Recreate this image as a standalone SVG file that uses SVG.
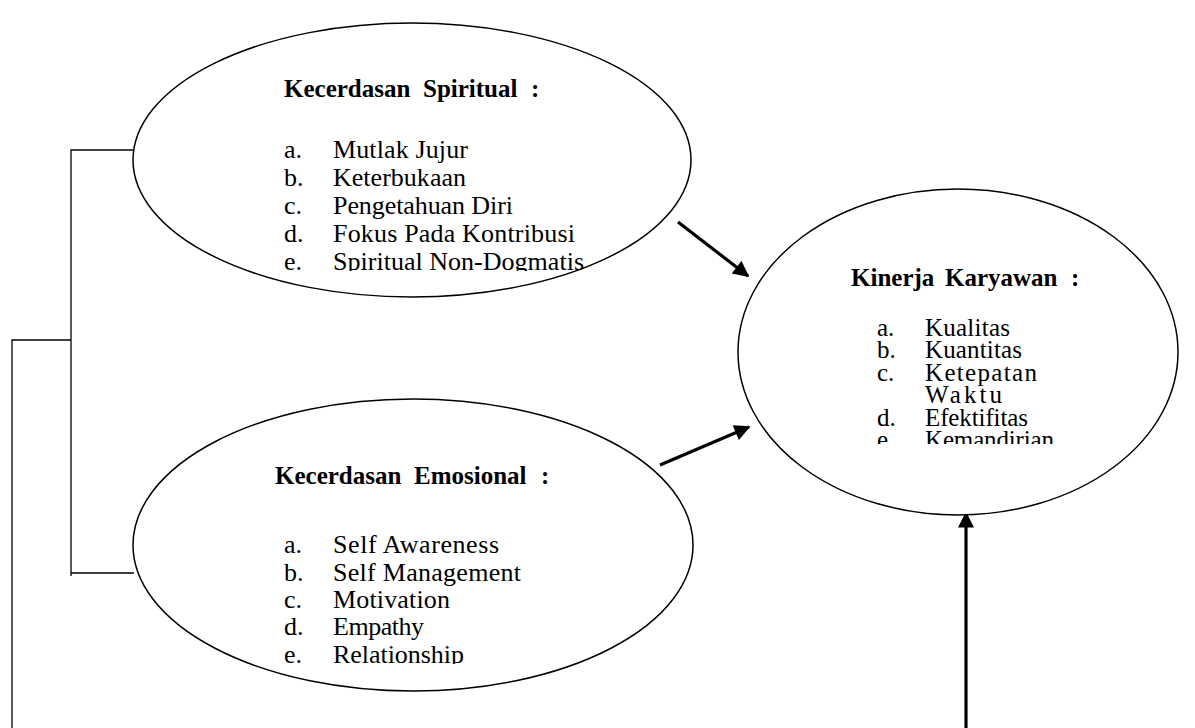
<svg xmlns="http://www.w3.org/2000/svg" width="1195" height="728" viewBox="0 0 1195 728">
<style>
.node ellipse{fill:#fff;stroke:#000;stroke-width:1.5}
.t{font-family:"Liberation Serif","Times New Roman",serif;font-size:26px;fill:#000}
.k{font-size:25px}
.h{font-family:"Liberation Serif","Times New Roman",serif;font-size:25px;font-weight:bold;fill:#000}
.ln{fill:none;stroke:#000;stroke-width:1.3}
.ar{fill:none;stroke:#000;stroke-width:3.2}
</style>
<defs>
<marker id="ah" viewBox="0 0 10 10" refX="9" refY="5" markerWidth="5.5" markerHeight="5" markerUnits="strokeWidth" orient="auto">
<path d="M0,0 L10,5 L0,10 Z" fill="#000"/>
</marker>
<clipPath id="c1"><rect x="200" y="60" width="450" height="211"/></clipPath>
<clipPath id="c2"><rect x="200" y="440" width="450" height="224"/></clipPath>
<clipPath id="c3"><rect x="820" y="250" width="300" height="194"/></clipPath>
</defs>
<rect width="1195" height="728" fill="#fff"/>
<g id="connectors">
<polyline class="ln" points="133,150 71,150 71,576"/>
<line class="ln" x1="71" y1="573" x2="134" y2="573"/>
<polyline class="ln" points="71,340 12,340 12,728"/>
<line class="ar" x1="678" y1="222" x2="748" y2="276" marker-end="url(#ah)"/>
<line class="ar" x1="660" y1="465" x2="749" y2="427" marker-end="url(#ah)"/>
<line class="ar" x1="966" y1="728" x2="966" y2="513" marker-end="url(#ah)"/>
</g>
<g id="node-spiritual" class="node">
<ellipse cx="412" cy="160" rx="279" ry="137"/>
<text class="h" y="97"><tspan x="284">Kecerdasan</tspan><tspan x="423">Spiritual</tspan><tspan x="531">:</tspan></text>
<g clip-path="url(#c1)">
<text class="t" x="284" y="158">a.</text><text class="t" x="333" y="158" textLength="135" lengthAdjust="spacing">Mutlak Jujur</text>
<text class="t" x="284" y="186">b.</text><text class="t" x="333" y="186" textLength="133" lengthAdjust="spacing">Keterbukaan</text>
<text class="t" x="284" y="214">c.</text><text class="t" x="333" y="214" textLength="180" lengthAdjust="spacing">Pengetahuan Diri</text>
<text class="t" x="284" y="242">d.</text><text class="t" x="333" y="242" textLength="242" lengthAdjust="spacing">Fokus Pada Kontribusi</text>
<text class="t" x="284" y="270">e.</text><text class="t" x="333" y="270" textLength="251" lengthAdjust="spacing">Spiritual Non-Dogmatis</text>
</g>
</g>
<g id="node-emosional" class="node">
<ellipse cx="413" cy="545" rx="280" ry="146"/>
<text class="h" y="484"><tspan x="275">Kecerdasan</tspan><tspan x="414">Emosional</tspan><tspan x="541">:</tspan></text>
<g clip-path="url(#c2)">
<text class="t" x="284" y="553">a.</text><text class="t" x="333" y="553" textLength="166" lengthAdjust="spacing">Self Awareness</text>
<text class="t" x="284" y="581">b.</text><text class="t" x="333" y="581" textLength="188" lengthAdjust="spacing">Self Management</text>
<text class="t" x="284" y="608">c.</text><text class="t" x="333" y="608" textLength="117" lengthAdjust="spacing">Motivation</text>
<text class="t" x="284" y="635">d.</text><text class="t" x="333" y="635" textLength="91" lengthAdjust="spacing">Empathy</text>
<text class="t" x="284" y="663">e.</text><text class="t" x="333" y="663" textLength="131" lengthAdjust="spacing">Relationship</text>
</g>
</g>
<g id="node-kinerja" class="node">
<ellipse cx="958" cy="352" rx="220" ry="163"/>
<text class="h" y="286"><tspan x="851">Kinerja</tspan><tspan x="945">Karyawan</tspan><tspan x="1071">:</tspan></text>
<g clip-path="url(#c3)">
<text class="t k" x="877" y="336">a.</text><text class="t k" x="925" y="336" textLength="85" lengthAdjust="spacing">Kualitas</text>
<text class="t k" x="877" y="358">b.</text><text class="t k" x="925" y="358" textLength="97" lengthAdjust="spacing">Kuantitas</text>
<text class="t k" x="877" y="381">c.</text><text class="t k" x="925" y="381" textLength="112" lengthAdjust="spacing">Ketepatan</text>
<text class="t k" x="925" y="403" textLength="77" lengthAdjust="spacing">Waktu</text>
<text class="t k" x="877" y="426">d.</text><text class="t k" x="925" y="426" textLength="103" lengthAdjust="spacing">Efektifitas</text>
<text class="t k" x="877" y="448">e.</text><text class="t k" x="925" y="448" textLength="129" lengthAdjust="spacing">Kemandirian</text>
</g>
</g>
</svg>
